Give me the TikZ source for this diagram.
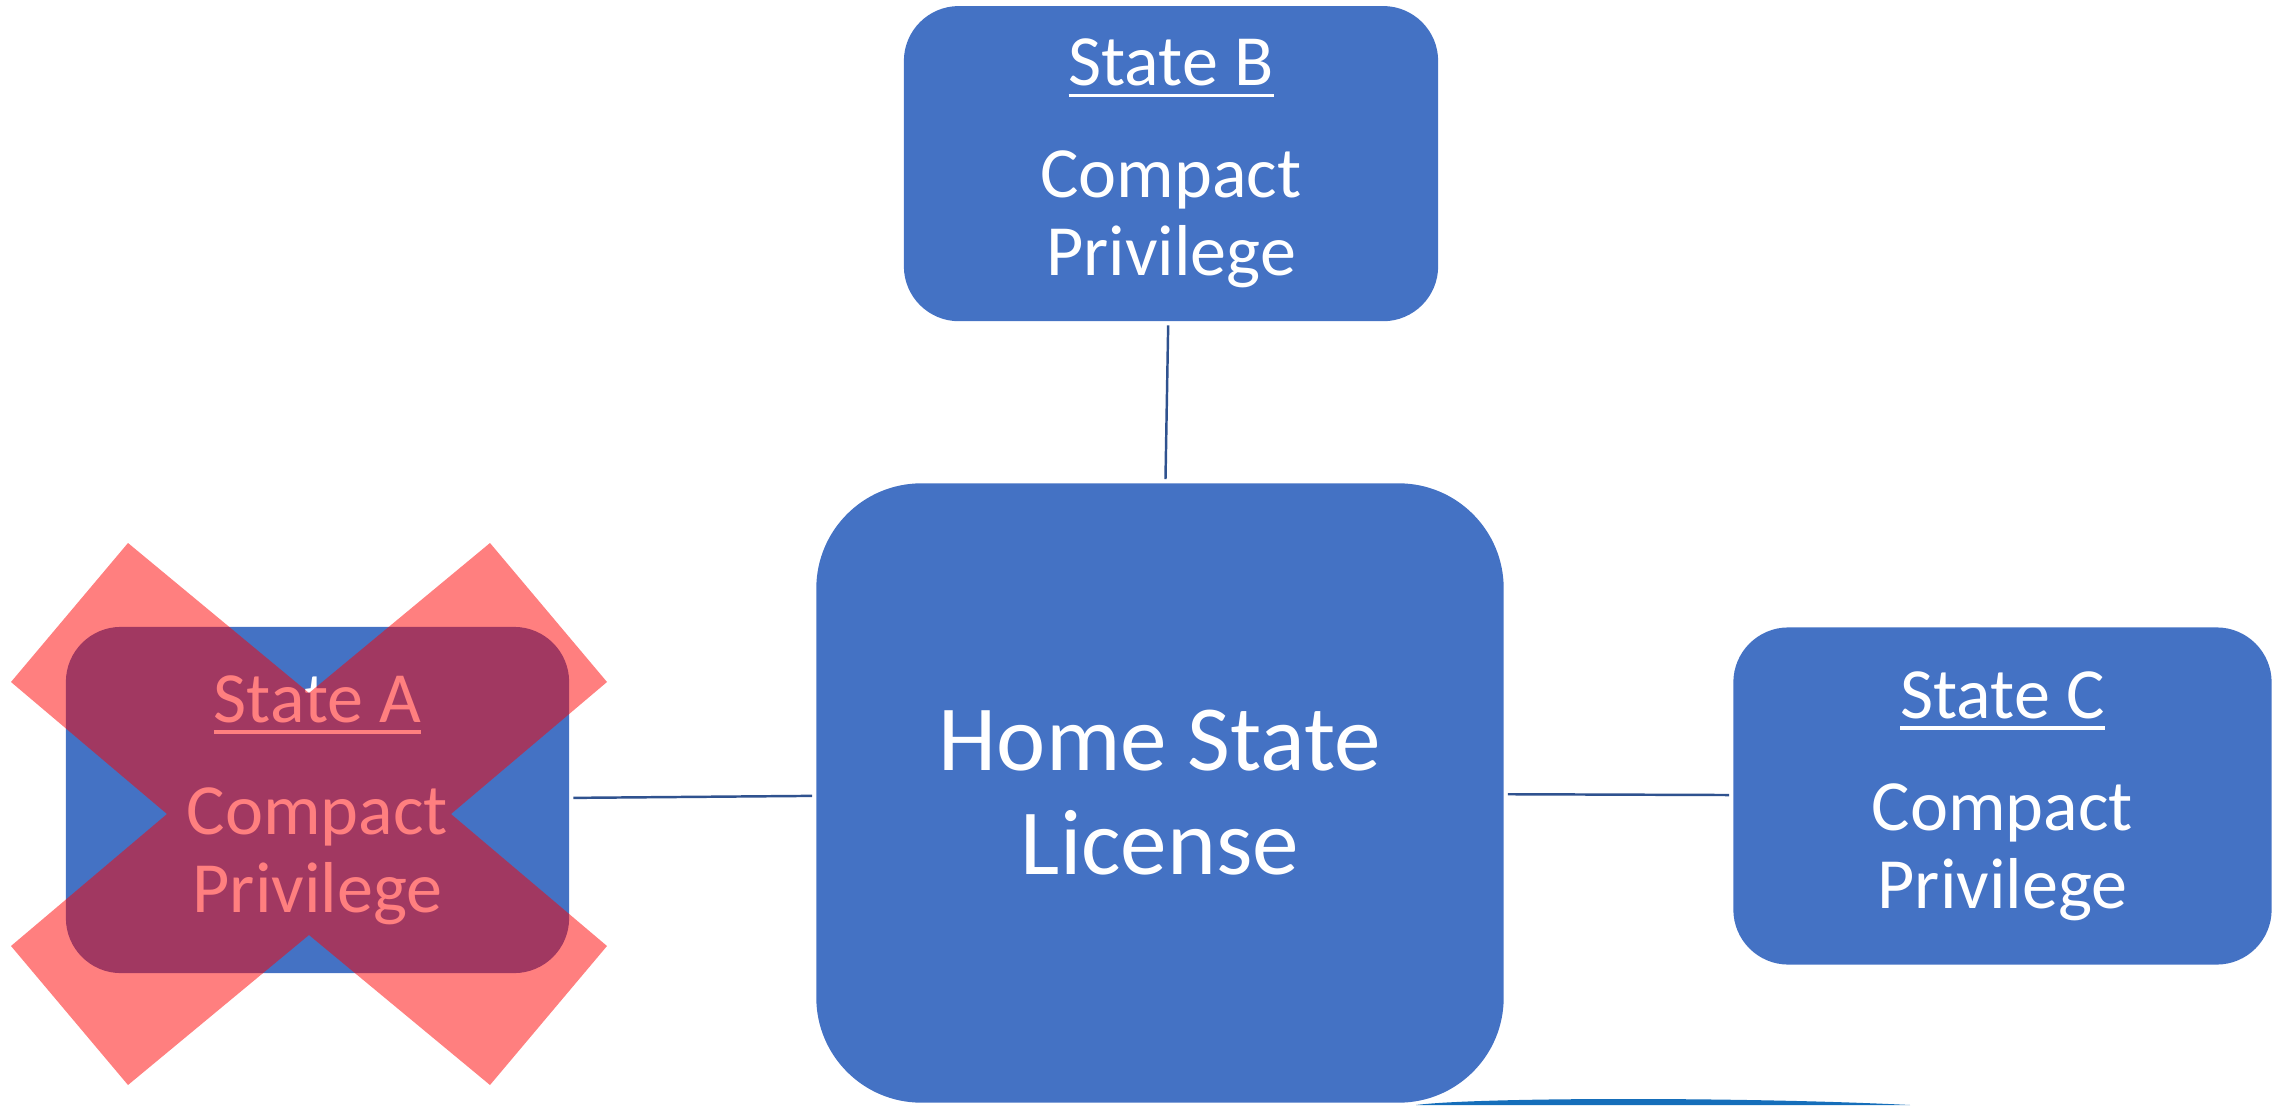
\documentclass[tikz,border=0pt]{standalone}
\usepackage{fontspec}
\setmainfont{Carlito}
\usepackage{xcolor}
\usepackage{tikz}
\usetikzlibrary{arrows}

\definecolor{boxblue}{RGB}{68,114,196}
\definecolor{linkblue}{RGB}{47,82,143}
\definecolor{arcblue}{RGB}{21,110,186}

\newcommand{\ustate}[1]{\sbox0{#1}\rlap{\rule[-0.16em]{\wd0}{0.05em}}\usebox0}

\begin{document}
\begin{tikzpicture}[x=0.01cm,y=0.01cm,node distance=8.42cm,
    statebox/.style={rectangle,rounded corners=0.55cm,fill=boxblue,text=white,align=center,
      font=\fontsize{20.5pt}{22.2pt}\selectfont},
    homebox/.style={rectangle,rounded corners=1.05cm,fill=boxblue,text=white,align=center,
      minimum width=6.87cm,minimum height=6.19cm,font=\fontsize{26.5pt}{29.6pt}\selectfont},
    link/.style={draw=linkblue,line width=0.7pt,shorten >=1pt,shorten <=1pt},
    cross/.style={fill=red,opacity=0.5}]
  \useasboundingbox (0,0) rectangle (2290,1105);

  \node[homebox] (home) at (1160,312) {Home State\\License};
  \node[statebox,minimum width=5.03cm,minimum height=3.46cm] (a) [left of=home,yshift=-0.07cm]
    {\ustate{State A}\\[0.34cm]Compact\\Privilege};
  \node[statebox,minimum width=5.38cm,minimum height=3.37cm] (c) [right of=home,yshift=-0.03cm]
    {\ustate{State C}\\[0.34cm]Compact\\Privilege};
  \node[statebox,minimum width=5.34cm,minimum height=3.15cm,node distance=6.29cm] (b) [above of=home,xshift=0.11cm]
    {\ustate{State B}\\[0.34cm]Compact\\Privilege};

  \path[link] (b) edge (home)
              (a) edge (home)
              (home) edge (c);

  % cross over state A
  \begin{scope}[shift={(309,291)}]
    \fill[cross] (-181,271) -- (0,121) -- (181,271) -- (298,132) -- (142,0) -- (298,-132)
      -- (181,-271) -- (0,-121) -- (-181,-271) -- (-298,-132) -- (-142,0) -- (-298,132) -- cycle;
  \end{scope}

  \fill[arcblue] (1416,0) .. controls (1480,8) and (1750,8) .. (1910,0) -- cycle;
\end{tikzpicture}
\end{document}
